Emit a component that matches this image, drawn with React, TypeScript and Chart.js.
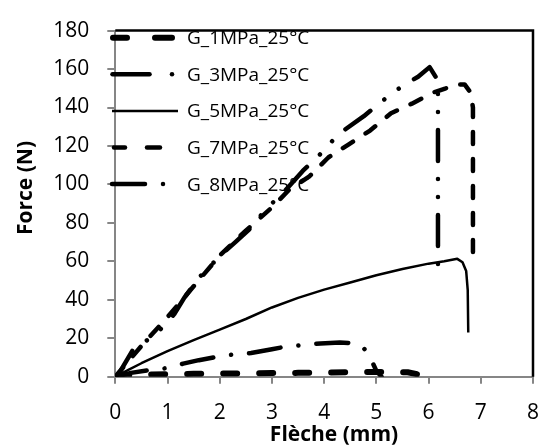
import React, { useEffect, useRef } from "react";
import { Chart, registerables } from "chart.js";

Chart.register(...registerables);

const xTickValues = [0, 1, 2, 3, 4, 5, 6, 7, 8];
const yTickValues = [0, 20, 40, 60, 80, 100, 120, 140, 160, 180];

const seriesNames = ["G_1MPa_25°C", "G_3MPa_25°C", "G_5MPa_25°C", "G_7MPa_25°C", "G_8MPa_25°C"];

const g1X = [0, 0.3, 0.7, 1, 1.5, 2, 2.5, 3, 3.5, 4, 4.5, 5, 5.3, 5.6, 5.8, 5.9];
const g1Y = [0, 1, 1.2, 1.3, 1.5, 1.6, 1.7, 1.9, 2.0, 2.2, 2.3, 2.5, 2.5, 2.3, 1.2, 0.3];

const g3X = [0, 0.3, 0.64, 1, 1.3, 1.6, 1.93, 2.27, 2.6, 3, 3.28, 3.62, 3.93, 4.3, 4.6, 4.75, 4.85, 5.0, 5.1];
const g3Y = [0, 2, 3.4, 4.5, 6.8, 8.6, 10.2, 11.6, 12.3, 14.3, 15.7, 16.5, 17.3, 17.8, 17.4, 15, 12, 3, 0];

const g5X = [0, 0.25, 0.5, 1, 1.5, 2, 2.5, 3, 3.5, 4, 4.5, 5, 5.5, 6, 6.3, 6.55, 6.65, 6.72, 6.75, 6.76];
const g5Y = [0, 3.5, 7, 13.3, 19, 24.5, 30, 36, 41, 45.3, 49, 52.8, 56, 58.8, 60, 61.3, 59.5, 55, 45, 23];

const g7X = [0, 0.5, 1, 1.5, 2, 2.5, 3, 3.32, 3.71, 4.08, 4.48, 4.88, 5.28, 5.68, 6.11, 6.33, 6.51, 6.69, 6.8, 6.85, 6.85];
const g7Y = [0, 16, 31, 47, 63, 76, 88, 97, 104, 114, 121, 128, 137, 142, 148, 150, 152, 152, 148, 140, 58];

const g8X = [0, 0.1, 0.33, 0.61, 0.88, 1.13, 1.32, 1.62, 1.87, 2.05, 2.3, 2.6, 2.91, 3.16, 3.59, 3.9, 4.27, 4.76, 5.28, 5.53, 5.8, 6.02, 6.18, 6.18];
const g8Y = [0, 3, 13.6, 19, 25, 32.6, 41, 52, 59, 64, 70, 77.5, 88, 94, 107, 115, 126, 135.5, 147, 151.7, 156, 161, 154, 50];

const seriesX = [g1X, g3X, g5X, g7X, g8X];
const seriesY = [g1Y, g3Y, g5Y, g7Y, g8Y];

const lineStyles = [
  { width: 6, dash: [14, 22] },
  { width: 4.5, dash: [32, 18, 0.01, 18] },
  { width: 2.5, dash: [] as number[] },
  { width: 4.5, dash: [12, 15] },
  { width: 4.5, dash: [31, 18, 0.01, 18, 0.01, 18] },
];

// legend sample segments (pixel positions, drawing only)
const legendSegs: number[][][] = [
  [[113, 127], [155, 172]],
  [[112.5, 149.5], [172, 172]],
  [[112, 178]],
  [[114, 125], [147, 160]],
  [[112, 145], [163, 163]],
];

const FONT = "'Open Sans', 'DejaVu Sans', sans-serif";

const overlayPlugin = {
  id: "overlay",
  beforeDatasetsDraw(chart: any) {
    const ctx = chart.ctx;
    ctx.save();
    seriesNames.forEach((name, i) => {
      const y = 37.7 + i * 36.6;
      ctx.strokeStyle = "#000";
      ctx.lineWidth = lineStyles[i].width;
      ctx.lineCap = i === 2 ? "butt" : "round";
      ctx.setLineDash([]);
      legendSegs[i].forEach(([a, b]) => {
        ctx.beginPath();
        ctx.moveTo(a, y);
        ctx.lineTo(b === a ? b + 0.01 : b, y);
        ctx.stroke();
      });
      ctx.fillStyle = "#000";
      ctx.font = `19px ${FONT}`;
      ctx.textAlign = "left";
      ctx.textBaseline = "middle";
      ctx.fillText(name, 187, y + 1);
    });
    ctx.restore();
  },
  afterDraw(chart: any) {
    const ctx = chart.ctx;
    const a = chart.chartArea;
    ctx.save();
    ctx.strokeStyle = "#000";
    ctx.lineWidth = 2.5;
    ctx.setLineDash([]);
    ctx.beginPath();
    ctx.moveTo(a.left, a.top);
    ctx.lineTo(a.right, a.top);
    ctx.lineTo(a.right, a.bottom);
    ctx.stroke();
    ctx.fillStyle = "#000";
    ctx.font = `bold 21px ${FONT}`;
    ctx.textAlign = "center";
    ctx.textBaseline = "alphabetic";
    ctx.fillText("Flèche (mm)", 334, 441);
    ctx.translate(32, 188);
    ctx.rotate(-Math.PI / 2);
    ctx.fillText("Force (N)", 0, 0);
    ctx.restore();
  },
};

export default function App() {
  const ref = useRef<HTMLCanvasElement | null>(null);
  useEffect(() => {
    if (!ref.current) return;
    const datasets = seriesNames.map((name, i) => ({
      label: name,
      data: seriesX[i].map((x, k) => ({ x, y: seriesY[i][k] })),
      showLine: true,
      borderColor: "#000",
      backgroundColor: "#000",
      borderWidth: lineStyles[i].width,
      borderDash: lineStyles[i].dash,
      borderCapStyle: i === 2 ? "butt" : "round",
      borderJoinStyle: "round",
      pointRadius: 0,
      tension: 0,
      fill: false,
    }));
    const chart = new Chart(ref.current, {
      type: "scatter",
      data: { datasets } as any,
      options: {
        animation: false,
        responsive: false,
        devicePixelRatio: 1,
        layout: { padding: { left: 0, top: 24.3, right: 6.7, bottom: 0 } },
        plugins: { legend: { display: false }, tooltip: { enabled: false } },
        scales: {
          x: {
            type: "linear",
            min: 0,
            max: 8,
            afterFit: (s: any) => { s.height = 70.3; },
            afterBuildTicks: (s: any) => { s.ticks = xTickValues.map((v) => ({ value: v })); },
            ticks: { color: "#000", font: { family: FONT, size: 21 }, padding: 17, maxRotation: 0 },
            grid: { drawOnChartArea: false, drawTicks: true, tickLength: 7, color: "#868686", lineWidth: 2 },
            border: { color: "#868686", width: 2 },
          },
          y: {
            type: "linear",
            min: 0,
            max: 180,
            afterFit: (s: any) => { s.width = 115.3; },
            afterBuildTicks: (s: any) => { s.ticks = yTickValues.map((v) => ({ value: v })); },
            ticks: { color: "#000", font: { family: FONT, size: 21 }, padding: 18 },
            grid: { drawOnChartArea: false, drawTicks: true, tickLength: 8, color: "#868686", lineWidth: 2 },
            border: { color: "#868686", width: 2 },
          },
        },
      } as any,
      plugins: [overlayPlugin],
    });
    return () => chart.destroy();
  }, []);
  return (
    <div style={{ position: "absolute", left: 0, top: 0, width: 556, height: 447, background: "#fff" }}>
      <canvas ref={ref} width={556} height={447} style={{ display: "block" }} />
    </div>
  );
}
